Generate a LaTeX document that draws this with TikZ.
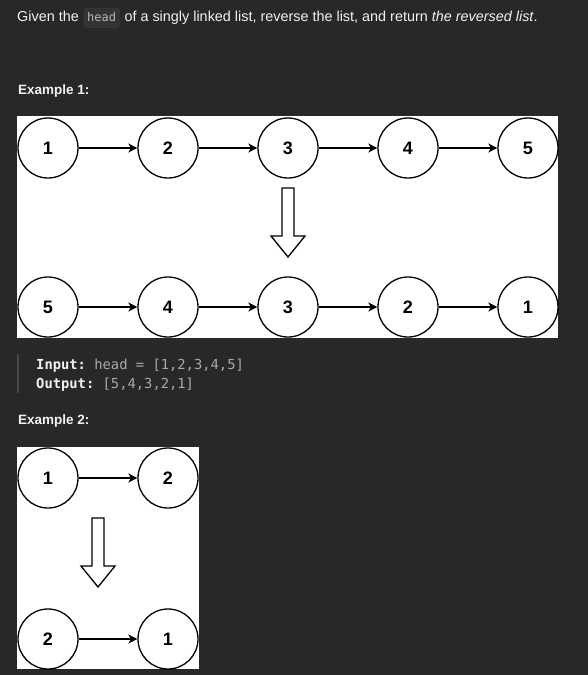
\documentclass[tikz,border=0pt]{standalone}
\usepackage{fontspec}
\setmainfont{Liberation Sans}
\setmonofont{DejaVu Sans Mono}
\usetikzlibrary{arrows.meta,positioning}
\definecolor{pagebg}{HTML}{282828}
\definecolor{textfg}{HTML}{EFF1F6}
\definecolor{codefg}{HTML}{AAAAAA}
\definecolor{codebg}{HTML}{333333}
\definecolor{codeline}{HTML}{474747}
\tikzset{
  listnode/.style={circle, draw=black, fill=white, line width=1.3pt, minimum size=60pt, inner sep=0pt, font=\fontsize{18}{18}\selectfont\bfseries},
  nextptr/.style={-{Stealth[length=9pt, width=9pt, inset=2.5pt]}, line width=1.3pt},
  prose/.style={anchor=base west, inner sep=0pt, text=textfg, font=\fontsize{14.4}{16}\selectfont},
  heading/.style={prose, font=\fontsize{13.5}{16}\selectfont\bfseries},
  codechip/.style={anchor=base west, fill=codebg, draw=codeline, rounded corners=3pt, inner xsep=3pt, inner ysep=3.5pt, text height=9pt, text depth=3pt, text=codefg!85!white, font=\ttfamily\fontsize{12}{14}\selectfont},
  codetext/.style={anchor=base west, inner sep=0pt, text=codefg, font=\ttfamily\fontsize{13.8}{16}\selectfont},
  panel/.style={fill=white}
}
% hollow arrow between the two rows: centre x, top y
\newcommand{\reversearrow}[2]{%
  \draw[line width=1.3pt, fill=white] (#1-6,#2) -- (#1+6,#2) -- (#1+6,#2+48) -- (#1+17,#2+48)
    -- (#1,#2+69) -- (#1-17,#2+48) -- (#1-6,#2+48) -- cycle;}
\begin{document}
\begin{tikzpicture}[x=1pt, y=-1pt]
\fill[pagebg] (0,0) rectangle (588,675);
\useasboundingbox (0,0) rectangle (588,675);

% problem statement
\node[prose] (given) at (17,21) {Given the};
\node[codechip] (headchip) at ([xshift=5pt]given.base east) {head};
\node[prose] (rest) at ([xshift=5pt]headchip.base east) {of a singly linked list, reverse the list, and return \textit{the reversed list}.};

% example 1
\node[heading] (ex1) at (18,94) {Example 1:};
\fill[panel] (17,116) rectangle (558,338);
\foreach \v [count=\i] in {1,2,3,4,5} {
  \node[listnode] (a\i) at (48+120*\i-120,148) {\v};
}
\foreach \v [count=\i] in {5,4,3,2,1} {
  \node[listnode] (b\i) at (48+120*\i-120,307) {\v};
}
\foreach \i [evaluate=\i as \j using int(\i+1)] in {1,...,4} {
  \draw[nextptr] (a\i) -- (a\j);
  \draw[nextptr] (b\i) -- (b\j);
}
\reversearrow{288}{188}

\draw[draw=codeline, line width=2.5pt] (18,354) -- (18,393);
\node[codetext] (in) at (36,369) {\textcolor{textfg}{\bfseries Input:} head = [1,2,3,4,5]};
\node[codetext] (out) at (36,388) {\textcolor{textfg}{\bfseries Output:} [5,4,3,2,1]};

% example 2
\node[heading] (ex2) at (18,424) {Example 2:};
\fill[panel] (17,447) rectangle (199,669);
\node[listnode] (c1) at (48,478) {1};
\node[listnode] (c2) at (168,478) {2};
\node[listnode] (d1) at (48,639) {2};
\node[listnode] (d2) at (168,639) {1};
\draw[nextptr] (c1) -- (c2);
\draw[nextptr] (d1) -- (d2);
\reversearrow{98}{518}
\end{tikzpicture}
\end{document}
